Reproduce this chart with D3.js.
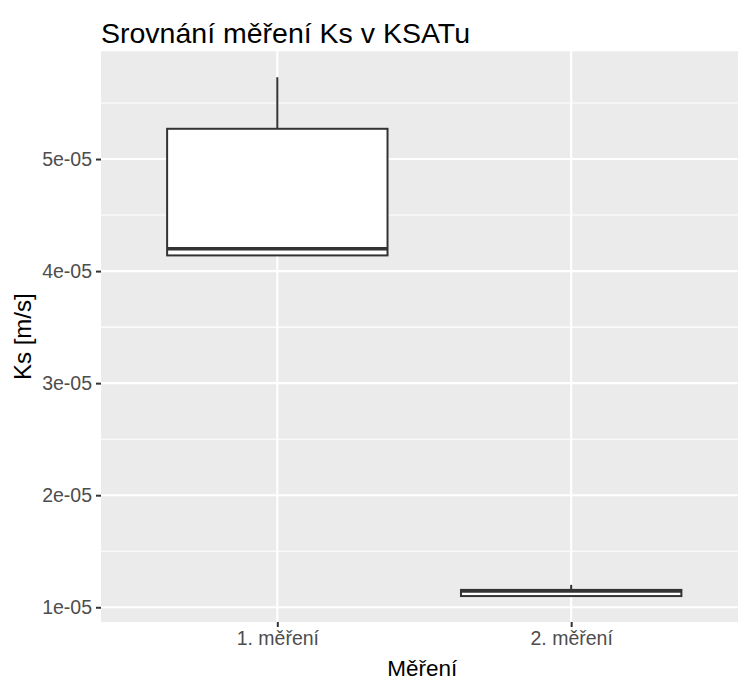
<!DOCTYPE html>
<html><head><meta charset="utf-8">
<script src="https://cdn.jsdelivr.net/npm/d3@7"></script>
<style>body{margin:0;background:#fff}svg{display:block}</style>
</head><body>
<script>
const categories = ["1. měření", "2. měření"];
const whiskerLow  = [4.14e-5, 1.10e-5];
const q1          = [4.14e-5, 1.10e-5];
const median      = [4.20e-5, 1.145e-5];
const q3          = [5.27e-5, 1.155e-5];
const whiskerHigh = [5.73e-5, 1.20e-5];
const yTicks = [1e-5, 2e-5, 3e-5, 4e-5, 5e-5];
const yTickLabels = ["1e-05", "2e-05", "3e-05", "4e-05", "5e-05"];
const yMinorTicks = [1.5e-5, 2.5e-5, 3.5e-5, 4.5e-5, 5.5e-5];

const W = 738, H = 683;
const P = {left: 101, top: 51.3, bottom: 622, right: 747.5};
const svg = d3.select("body").append("svg").attr("width", W).attr("height", H)
  .style("font-family", "'Liberation Sans', Arial, sans-serif");

const dmin = d3.min(whiskerLow), dmax = d3.max(whiskerHigh);
const pad = (dmax - dmin) * 0.05;
const y = d3.scaleLinear().domain([dmin - pad, dmax + pad]).range([P.bottom, P.top]);
const x = d3.scalePoint().domain(categories).range([P.left, P.right]).padding(0.6);
const step = x.step();

svg.append("rect").attr("x", P.left).attr("y", P.top)
  .attr("width", P.right - P.left).attr("height", P.bottom - P.top).attr("fill", "#EBEBEB");

const g = svg.append("g");
g.selectAll(".minor").data(yMinorTicks).join("line")
  .attr("x1", P.left).attr("x2", P.right).attr("y1", d => y(d)).attr("y2", d => y(d))
  .attr("stroke", "#fff").attr("stroke-width", 1.1);
g.selectAll(".major").data(yTicks).join("line")
  .attr("x1", P.left).attr("x2", P.right).attr("y1", d => y(d)).attr("y2", d => y(d))
  .attr("stroke", "#fff").attr("stroke-width", 2.1);
g.selectAll(".vmajor").data(categories).join("line")
  .attr("x1", d => x(d)).attr("x2", d => x(d)).attr("y1", P.top).attr("y2", P.bottom)
  .attr("stroke", "#fff").attr("stroke-width", 2.1);

// boxes
const bw = step * 0.75;
const boxes = svg.append("g").selectAll("g").data(categories).join("g");
boxes.append("line")
  .attr("x1", d => x(d)).attr("x2", d => x(d))
  .attr("y1", (d, i) => y(q3[i])).attr("y2", (d, i) => y(whiskerHigh[i]))
  .attr("stroke", "#333").attr("stroke-width", 2);
boxes.append("line")
  .attr("x1", d => x(d)).attr("x2", d => x(d))
  .attr("y1", (d, i) => y(q1[i])).attr("y2", (d, i) => y(whiskerLow[i]))
  .attr("stroke", "#333").attr("stroke-width", 2);
boxes.append("rect")
  .attr("x", d => x(d) - bw / 2).attr("width", bw)
  .attr("y", (d, i) => y(q3[i])).attr("height", (d, i) => y(q1[i]) - y(q3[i]))
  .attr("fill", "#fff").attr("stroke", "#333").attr("stroke-width", 2);
boxes.append("line")
  .attr("x1", d => x(d) - bw / 2).attr("x2", d => x(d) + bw / 2)
  .attr("y1", (d, i) => y(median[i])).attr("y2", (d, i) => y(median[i]))
  .attr("stroke", "#333").attr("stroke-width", 3.5);

// axes
const yAxis = d3.axisLeft(y).tickValues(yTicks).tickFormat((d, i) => yTickLabels[i])
  .tickSize(5).tickPadding(4);
const ya = svg.append("g").attr("transform", `translate(${P.left},0)`).call(yAxis);
ya.select(".domain").remove();
ya.selectAll(".tick line").attr("stroke", "#333").attr("stroke-width", 2);
ya.selectAll(".tick text").attr("fill", "#4D4D4D").style("font-size", "19.5px")
  .style("font-family", "'Liberation Sans', Arial, sans-serif");

const xAxis = d3.axisBottom(x).tickSize(5).tickPadding(4);
const xa = svg.append("g").attr("transform", `translate(0,${P.bottom})`).call(xAxis);
xa.select(".domain").remove();
xa.selectAll(".tick line").attr("stroke", "#333").attr("stroke-width", 2);
xa.selectAll(".tick text").attr("fill", "#4D4D4D").style("font-size", "19.5px")
  .style("font-family", "'Liberation Sans', Arial, sans-serif");

svg.append("text").attr("x", (P.left + P.right) / 2 - 2).attr("y", 676)
  .attr("text-anchor", "middle").attr("font-size", 22.5).attr("fill", "#000").text("Měření");
svg.append("text").attr("transform", `translate(31,${(P.top + P.bottom) / 2}) rotate(-90)`)
  .attr("text-anchor", "middle").attr("font-size", 24).attr("fill", "#000").text("Ks [m/s]");
svg.append("text").attr("x", P.left).attr("y", 43)
  .attr("font-size", 28.5).attr("fill", "#000").text("Srovnání měření Ks v KSATu");
</script>
</body></html>
